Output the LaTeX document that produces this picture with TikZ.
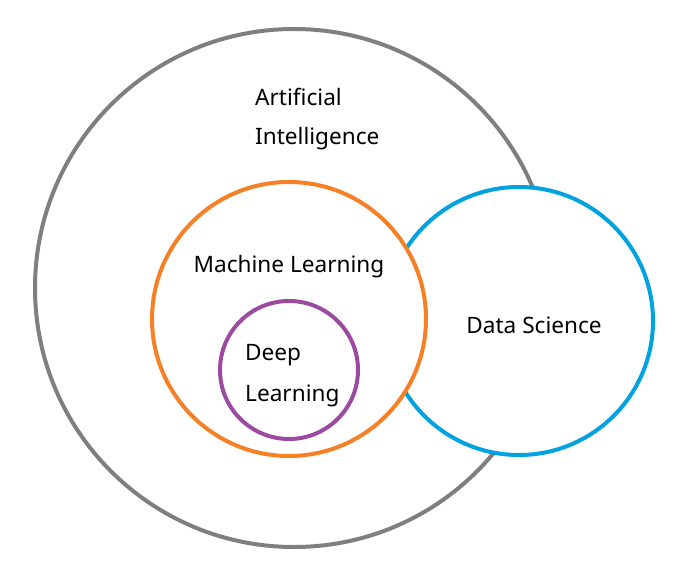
\documentclass[tikz,border=0pt]{standalone}
\usepackage{fontspec}
\setmainfont{Noto Sans}
\definecolor{aigray}{HTML}{7F7F7F}
\definecolor{mlorange}{HTML}{F58025}
\definecolor{dsblue}{HTML}{00A2E0}
\definecolor{dlpurple}{HTML}{9B4A9F}
\begin{document}
\begin{tikzpicture}[x=1pt,y=-1pt,
  ring/.style={circle, draw, line width=4pt, fill=white, inner sep=0pt},
  lbl/.style={font=\fontsize{22.6}{40}\selectfont, inner sep=0pt, text=black}]
\useasboundingbox (0,0) rectangle (693,572);
\node[ring, draw=aigray, minimum size=518pt] (ai) at (294,288) {};
\node[ring, draw=dsblue, minimum size=268pt] (ds) at (519,321) {};
\node[ring, draw=mlorange, minimum size=274pt] (ml) at (289,319) {};
\node[ring, draw=dlpurple, minimum size=138pt] (dl) at (289,370) {};
\node[lbl, anchor=west] (tai1) at (255,97) {Artificial};
\node[lbl, anchor=west] (tai2) at (255,139) {Intelligence};
\node[lbl] (tml) at (289,267) {Machine Learning};
\node[lbl] (tds) at (534,325) {Data Science};
\node[lbl, anchor=west] (tdl1) at (245,355) {Deep};
\node[lbl, anchor=west] (tdl2) at (245,396) {Learning};
\end{tikzpicture}
\end{document}
